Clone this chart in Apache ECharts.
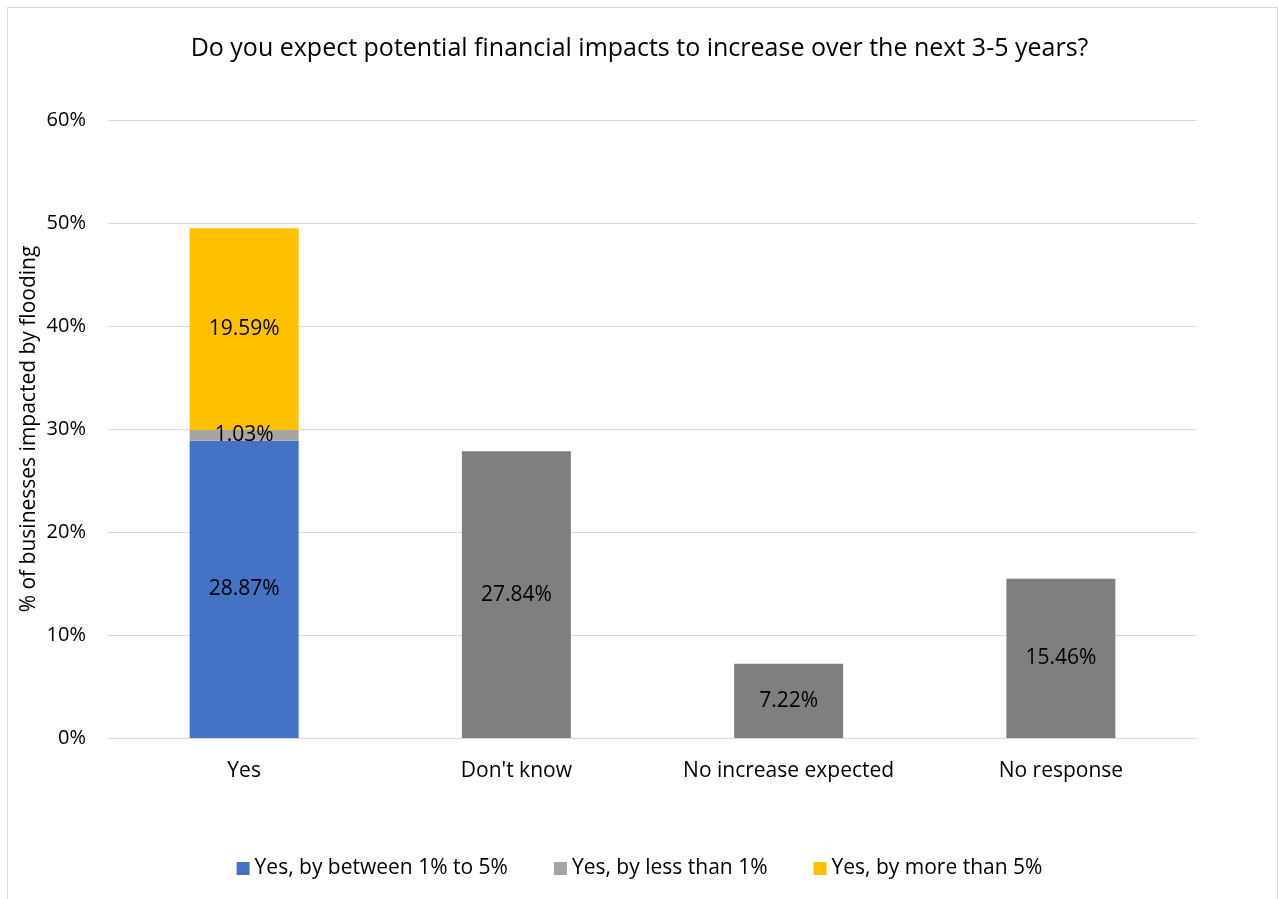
<!DOCTYPE html>
<html>
<head>
<meta charset="utf-8">
<script src="https://cdn.jsdelivr.net/npm/echarts@6/dist/echarts.min.js"></script>
<style>
  html, body { margin: 0; padding: 0; background: #fff; }
  #chart { width: 1279px; height: 899px; }
</style>
</head>
<body>
<div id="chart"></div>
<script>
// Survey answers: share of businesses impacted by flooding (%)
const categories = ['Yes', "Don't know", 'No increase expected', 'No response'];
const between1and5 = [28.87, null, null, null];
const lessThan1 = [1.03, null, null, null];
const moreThan5 = [19.59, null, null, null];
const otherAnswers = [null, 27.84, 7.22, 15.46];
const yTicks = [0, 10, 20, 30, 40, 50, 60];

const FONT = '"Open Sans", Lato, sans-serif';
const TXT = 21;
const labelStyle = {
  show: true,
  position: 'inside',
  color: '#000',
  fontSize: TXT,
  fontFamily: FONT,
  formatter: p => p.value == null ? '' : p.value.toFixed(2) + '%'
};

function stackSeries(name, data, color) {
  return {
    name: name,
    type: 'bar',
    stack: 'total',
    data: data,
    barWidth: 109,
    itemStyle: { color: color },
    label: labelStyle,
    emphasis: { disabled: true }
  };
}

const chart = echarts.init(document.getElementById('chart'), null, { renderer: 'canvas' });
chart.setOption({
  animation: false,
  backgroundColor: '#fff',
  textStyle: { fontFamily: FONT },
  title: {
    text: 'Do you expect potential financial impacts to increase over the next 3-5 years?',
    left: 'center',
    top: 31,
    textStyle: { fontFamily: FONT, fontSize: 25, fontWeight: 'normal', color: '#000' }
  },
  graphic: [{
    type: 'rect',
    shape: { x: 7.5, y: 7.5, width: 1270, height: 910 },
    style: { fill: 'none', stroke: '#d9d9d9', lineWidth: 1 },
    silent: true
  }],
  legend: {
    bottom: 15,
    left: 'center',
    itemWidth: 13,
    itemHeight: 13,
    itemGap: 46,
    icon: 'rect',
    data: ['Yes, by between 1% to 5%', 'Yes, by less than 1%', 'Yes, by more than 5%'],
    textStyle: { fontFamily: FONT, fontSize: TXT, color: '#000' }
  },
  grid: { left: 108, right: 82, top: 120, bottom: 161, containLabel: false },
  xAxis: {
    type: 'category',
    data: categories,
    axisLine: { lineStyle: { color: '#d9d9d9', width: 1 } },
    axisTick: { show: false },
    axisLabel: { color: '#000', fontSize: TXT, fontFamily: FONT, margin: 23, interval: 0 }
  },
  yAxis: {
    type: 'value',
    min: yTicks[0],
    max: yTicks[yTicks.length - 1],
    interval: 10,
    name: '% of businesses impacted by flooding',
    nameLocation: 'middle',
    nameGap: 68,
    nameMoveOverlap: false,
    nameTextStyle: { color: '#000', fontSize: TXT, fontFamily: FONT },
    axisLine: { show: false },
    axisTick: { show: false },
    splitLine: { lineStyle: { color: '#d9d9d9', width: 1 } },
    axisLabel: { color: '#000', fontSize: 20, fontFamily: FONT, margin: 22, formatter: v => v + '%' }
  },
  series: [
    stackSeries('Yes, by between 1% to 5%', between1and5, '#4472C4'),
    stackSeries('Yes, by less than 1%', lessThan1, '#A5A5A5'),
    stackSeries('Yes, by more than 5%', moreThan5, '#FFC000'),
    stackSeries('Other answers', otherAnswers, '#7F7F7F')
  ]
});
</script>
</body>
</html>
